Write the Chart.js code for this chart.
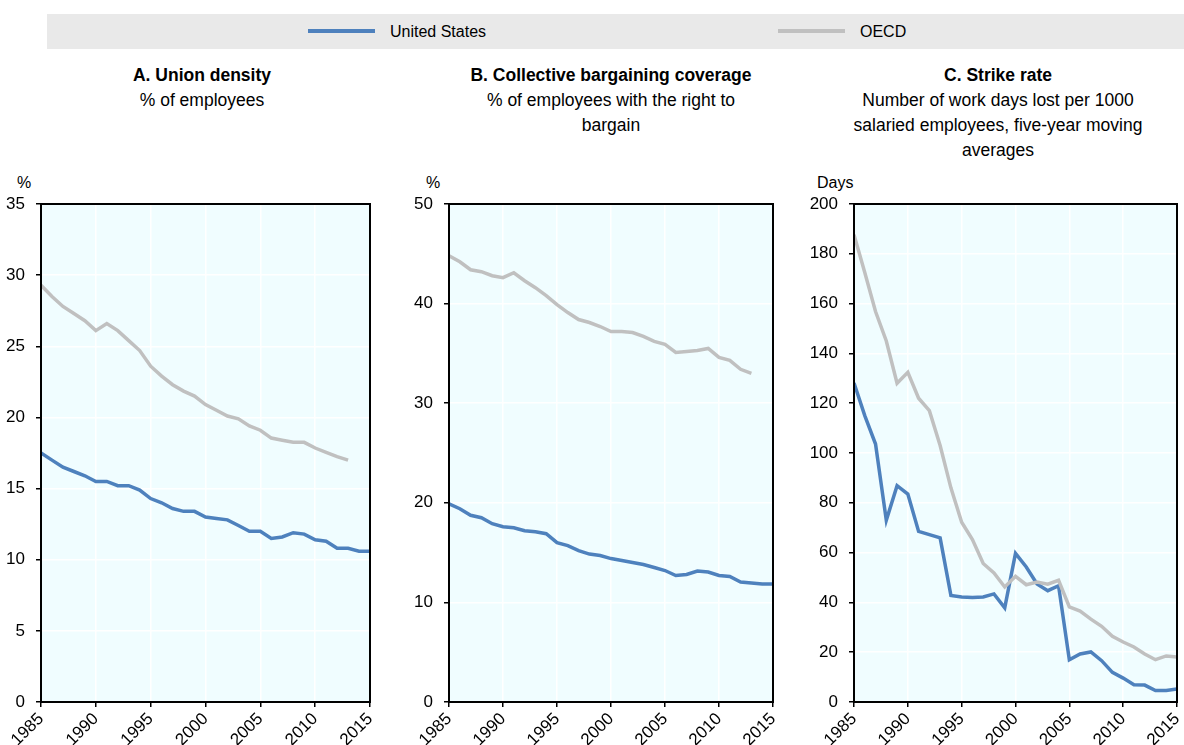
<!DOCTYPE html>
<html><head><meta charset="utf-8">
<script src="https://cdn.jsdelivr.net/npm/chart.js@4.4.1/dist/chart.umd.min.js"></script>
<style>
body{margin:0;width:1184px;height:745px;background:#fff;font-family:"Liberation Sans",Arial,sans-serif;position:relative;overflow:hidden;color:#000}
.abs{position:absolute}
#legendBand{left:47px;top:14px;width:1137px;height:35px;background:#e9e9e9}
.sw{position:absolute;height:4px;width:67px;top:29px}
.lt{position:absolute;top:22px;font-size:16px;line-height:20px;white-space:nowrap}
.title{position:absolute;top:63px;text-align:center;font-size:17.5px;line-height:25px}
.title b{font-weight:bold}
.unit{position:absolute;top:173px;font-size:16px;line-height:20px}
canvas{position:absolute}
</style></head>
<body>
<div id="legendBand" class="abs"></div>
<div class="sw" style="left:308px;background:#4e81bd"></div>
<div class="lt" style="left:390px">United States</div>
<div class="sw" style="left:778px;background:#c0c0c0"></div>
<div class="lt" style="left:860px">OECD</div>

<div class="title" style="left:37px;width:330px"><b>A. Union density</b><br>% of employees</div>
<div class="title" style="left:449px;width:324px"><b>B. Collective bargaining coverage</b><br>% of employees with the right to<br>bargain</div>
<div class="title" style="left:838px;width:320px"><b>C. Strike rate</b><br>Number of work days lost per 1000<br>salaried employees, five-year moving<br>averages</div>

<div class="unit" style="left:17px">%</div>
<div class="unit" style="left:426px">%</div>
<div class="unit" style="left:817px">Days</div>

<canvas id="cA" width="390" height="585" style="left:0;top:160px"></canvas>
<canvas id="cB" width="395" height="585" style="left:395px;top:160px"></canvas>
<canvas id="cC" width="394" height="585" style="left:790px;top:160px"></canvas>

<script>
const years = [1985,1986,1987,1988,1989,1990,1991,1992,1993,1994,1995,1996,1997,1998,1999,2000,2001,2002,2003,2004,2005,2006,2007,2008,2009,2010,2011,2012,2013,2014,2015];
const xTickYears = [1985,1990,1995,2000,2005,2010,2015];
const seriesNames = ['United States','OECD'];

const usDensity   = [17.5,17.0,16.5,16.2,15.9,15.5,15.5,15.2,15.2,14.9,14.3,14.0,13.6,13.4,13.4,13.0,12.9,12.8,12.4,12.0,12.0,11.5,11.6,11.9,11.8,11.4,11.3,10.8,10.8,10.6,10.6];
const oecdDensity = [29.3,28.5,27.8,27.3,26.8,26.1,26.6,26.1,25.4,24.7,23.6,22.9,22.3,21.85,21.5,20.9,20.5,20.1,19.9,19.4,19.1,18.55,18.4,18.25,18.25,17.85,17.55,17.25,17.0,null,null];

const usCoverage   = [19.9,19.4,18.75,18.5,17.9,17.6,17.5,17.2,17.1,16.9,16.0,15.7,15.2,14.85,14.7,14.4,14.2,14.0,13.8,13.5,13.2,12.7,12.8,13.15,13.05,12.7,12.6,12.05,11.95,11.85,11.85];
const oecdCoverage = [44.8,44.2,43.4,43.2,42.8,42.6,43.1,42.3,41.6,40.8,39.9,39.1,38.4,38.1,37.7,37.2,37.2,37.1,36.7,36.2,35.9,35.1,35.2,35.3,35.5,34.6,34.3,33.4,33.0,null,null];

const usStrike   = [128.1,115,103.6,73,86.9,83.5,68.5,67.2,65.9,42.8,42.2,42.0,42.2,43.4,37.8,59.7,54.2,47.4,44.7,46.7,17.0,19.3,20.1,16.6,11.9,9.6,6.9,6.8,4.6,4.6,5.2];
const oecdStrike = [187.7,172.5,156.8,145,128,132.4,122,117,103,86,72.2,65.2,55.6,51.8,46.2,50.5,47.1,48.2,47.3,48.9,38.2,36.5,33.3,30.4,26.4,24.1,22.1,19.3,17.0,18.5,18.1];

const yTicksA = [0,5,10,15,20,25,30,35];
const yTicksB = [0,10,20,30,40,50];
const yTicksC = [0,20,40,60,80,100,120,140,160,180,200];

const COLORS = ['#4e81bd','#c0c0c0'];

Chart.defaults.font.family = '"Liberation Sans", Arial, sans-serif';
Chart.defaults.font.size = 17;
Chart.defaults.color = '#000';

const frame = {
  id: 'frame',
  beforeDraw(chart){
    const {ctx, chartArea:a} = chart;
    ctx.save(); ctx.fillStyle = '#f0fdff';
    ctx.fillRect(a.left, a.top, a.width, a.height); ctx.restore();
  },
  afterDraw(chart){
    const {ctx, chartArea:a} = chart;
    ctx.save(); ctx.strokeStyle = '#000'; ctx.lineWidth = 2;
    ctx.strokeRect(a.left, a.top, a.width, a.height); ctx.restore();
  }
};

function toXY(vals){ return years.map((y,i)=>({x:y, y:vals[i]})); }

function makeChart(id, us, oecd, yTicks, yAxisWidth, padRight){
  const yMax = yTicks[yTicks.length-1];
  new Chart(document.getElementById(id), {
    type: 'line',
    data: {
      datasets: [
        {label: seriesNames[1], data: toXY(oecd), borderColor: COLORS[1], borderWidth: 3.5, pointRadius: 0, tension: 0, spanGaps: false},
        {label: seriesNames[0], data: toXY(us), borderColor: COLORS[0], borderWidth: 3.5, pointRadius: 0, tension: 0}
      ]
    },
    options: {
      responsive: false, animation: false,
      layout: {padding: {top: 44, right: padRight, left: 0, bottom: 0}},
      plugins: {legend: {display: false}, tooltip: {enabled: false}},
      scales: {
        x: {
          type: 'linear', min: 1985, max: 2015,
          afterBuildTicks: s => { s.ticks = xTickYears.map(v=>({value:v})); },
          afterFit: s => { s.height = 43; s.paddingLeft = 0; s.paddingRight = 0; },
          ticks: {minRotation: 45, maxRotation: 45, padding: 2, callback: v => String(v), font:{size:17}},
          grid: {color: '#ffffff', lineWidth: 1.5, tickColor: '#000', tickLength: 5, drawTicks: true},
          border: {display: false}
        },
        y: {
          min: 0, max: yMax,
          afterBuildTicks: s => { s.ticks = yTicks.map(v=>({value:v})); },
          afterFit: s => { s.width = yAxisWidth; s.paddingTop = 0; s.paddingBottom = 0; },
          ticks: {padding: 11, callback: v => String(v), font:{size:17}},
          grid: {color: '#ffffff', lineWidth: 1.5, tickColor: '#000', tickLength: 5, drawTicks: true},
          border: {display: false}
        }
      }
    },
    plugins: [frame]
  });
}

makeChart('cA', usDensity, oecdDensity, yTicksA, 41, 20);
makeChart('cB', usCoverage, oecdCoverage, yTicksB, 54, 17);
makeChart('cC', usStrike, oecdStrike, yTicksC, 64, 7);
</script>
</body></html>
